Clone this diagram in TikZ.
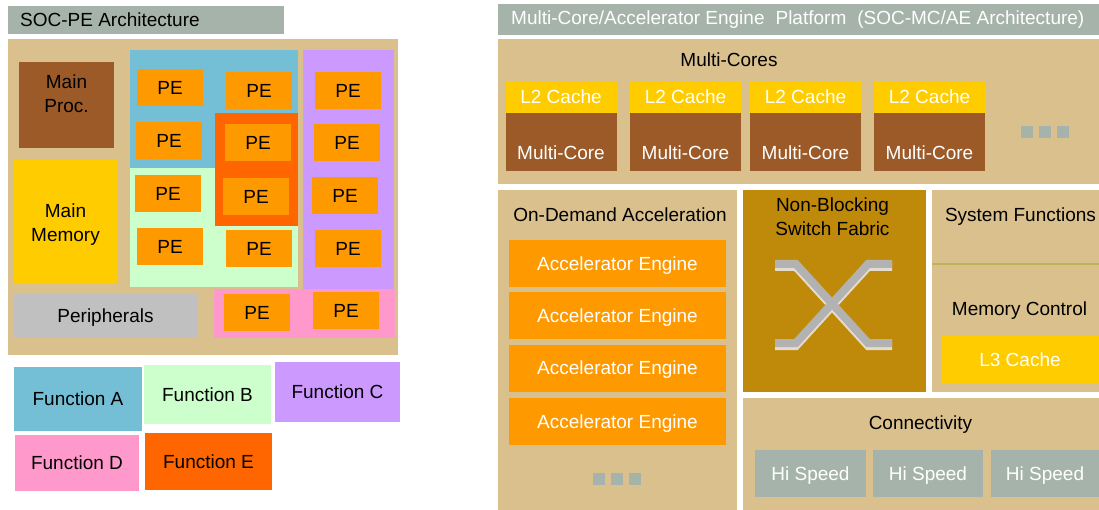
\documentclass[tikz,border=0pt]{standalone}
\usepackage{fontspec}
\setmainfont{Liberation Sans}
\usetikzlibrary{positioning}

\definecolor{barGray}{RGB}{166,179,170}
\definecolor{socTan}{RGB}{217,192,141}
\definecolor{procBrown}{RGB}{155,90,40}
\definecolor{cacheYellow}{RGB}{255,204,0}
\definecolor{peOrange}{RGB}{255,153,0}
\definecolor{fnRed}{RGB}{255,102,0}
\definecolor{fnBlue}{RGB}{116,190,214}
\definecolor{fnGreen}{RGB}{204,255,204}
\definecolor{fnPurple}{RGB}{204,153,255}
\definecolor{fnPink}{RGB}{255,153,204}
\definecolor{periGray}{RGB}{192,192,192}
\definecolor{switchGold}{RGB}{191,138,10}
\definecolor{xGray}{RGB}{178,178,178}
\definecolor{xEdge}{RGB}{228,220,205}
\definecolor{sepOlive}{RGB}{189,180,90}

\begin{document}
\begin{tikzpicture}[x=1pt, y=-1pt,
  blk/.style={rectangle, inner sep=0pt, outer sep=0pt, align=center, font=\fontsize{19}{24}\selectfont},
  lbl/.style={inner sep=0pt, align=center, font=\fontsize{19}{24}\selectfont},
  head/.style={lbl, text depth=0pt},
  pe/.style={blk, fill=peOrange, minimum width=66pt, minimum height=37pt},
  l2/.style={blk, fill=cacheYellow, text=white, minimum width=111pt, minimum height=32pt},
  core/.style={blk, fill=procBrown, minimum width=111pt, minimum height=58pt,
    label={[lbl, text=white, yshift=-11pt]center:Multi-Core}},
  engine/.style={blk, fill=peOrange, text=white, text depth=0pt, minimum width=217pt, minimum height=47pt},
  hispeed/.style={blk, fill=barGray, text=white, text depth=0pt, minimum height=47pt},
  dot/.style={blk, fill=barGray, minimum size=12pt},
  xbar/.style={line width=8pt, miter limit=4},
]
\useasboundingbox (0,0) rectangle (1099,510);

% === SOC-PE Architecture ===
\node[blk, fill=barGray, minimum width=276pt, minimum height=28pt,
  label={[lbl, anchor=west, xshift=12pt]west:SOC-PE Architecture}] (socTitle) at (146,20) {};
\node[blk, fill=socTan, minimum width=390pt, minimum height=316pt] (socBase) at (203,197) {};

\node[blk, fill=procBrown, minimum width=95pt, minimum height=86pt,
  label={[lbl, yshift=11pt]center:{Main\\Proc.}}] (mainProc) at (66.5,105) {};
\node[blk, fill=cacheYellow, minimum width=103pt, minimum height=124pt,
  label={[lbl, yshift=-3pt]center:{Main\\Memory}}] (mainMem) at (65.5,222) {};
\node[blk, fill=periGray, text depth=0pt, minimum width=183pt, minimum height=44pt] (periph) at (105.5,316) {Peripherals};

% function areas
\node[blk, fill=fnBlue, minimum width=168pt, minimum height=118pt] (areaA) at (214,109) {};
\node[blk, fill=fnGreen, minimum width=168pt, minimum height=119pt] (areaB) at (214,227.5) {};
\node[blk, fill=fnRed, minimum width=83pt, minimum height=113pt] (areaE) at (256.5,169.5) {};
\node[blk, fill=fnPurple, minimum width=91pt, minimum height=239pt] (areaC) at (348.5,169.5) {};
\node[blk, fill=fnPink, minimum width=181pt, minimum height=49pt] (areaD) at (304.5,313.5) {};

% processing elements
\node[pe] (pe11) at (170,87.5) {PE};
\node[pe] (pe12) at (259,90.5) {PE};
\node[pe] (pe13) at (348,90.5) {PE};
\node[pe] (pe21) at (169,140.5) {PE};
\node[pe] (pe22) at (258,143) {PE};
\node[pe] (pe23) at (347,142.5) {PE};
\node[pe] (pe31) at (168,193.5) {PE};
\node[pe] (pe32) at (256,196.5) {PE};
\node[pe] (pe33) at (345,195.5) {PE};
\node[pe] (pe41) at (170,246.5) {PE};
\node[pe] (pe42) at (259,249) {PE};
\node[pe] (pe43) at (348,248.5) {PE};
\node[pe] (pe51) at (257,312.5) {PE};
\node[pe] (pe52) at (346,310.5) {PE};

% legend
\node[blk, fill=fnBlue, minimum width=128pt, minimum height=64pt] (fnA) at (78,399) {Function A};
\node[blk, fill=fnGreen, minimum width=127pt, minimum height=59pt] (fnB) at (207.5,394.5) {Function B};
\node[blk, fill=fnPurple, minimum width=125pt, minimum height=60pt] (fnC) at (337.5,392) {Function C};
\node[blk, fill=fnPink, minimum width=124pt, minimum height=56pt] (fnD) at (77,463) {Function D};
\node[blk, fill=fnRed, minimum width=127pt, minimum height=57pt] (fnE) at (208.5,461.5) {Function E};

% === SOC-MC/AE Architecture ===
\node[blk, fill=barGray, minimum width=601pt, minimum height=31pt,
  label={[lbl, text=white, anchor=west, xshift=13pt]west:Multi-Core/Accelerator Engine\hspace{11pt}Platform\hspace{11pt}(SOC-MC/AE Architecture)}] (mcTitle) at (798.5,19.5) {};

% multi-cores
\node[blk, fill=socTan, minimum width=601pt, minimum height=145pt] (mcBase) at (798.5,111.5) {};
\node[head] (mcHead) at (729,60) {Multi-Cores};
\node[l2] (cache1) at (561,97) {L2 Cache};
\node[l2] (cache2) at (685.5,97) {L2 Cache};
\node[l2] (cache3) at (805.5,97) {L2 Cache};
\node[l2] (cache4) at (929.5,97) {L2 Cache};
\node[core] (core1) at (561,142) {};
\node[core] (core2) at (685.5,142) {};
\node[core] (core3) at (805.5,142) {};
\node[core] (core4) at (929.5,142) {};
\node[dot] (mcDot1) at (1027,132) {};
\node[dot] (mcDot2) at (1045,132) {};
\node[dot] (mcDot3) at (1063,132) {};

% on-demand acceleration
\node[blk, fill=socTan, minimum width=239pt, minimum height=320pt] (odaBase) at (617.5,350) {};
\node[head] (odaHead) at (620,215) {On-Demand Acceleration};
\node[engine] (eng1) at (617.5,263.5) {Accelerator Engine};
\node[engine] (eng2) at (617.5,315.5) {Accelerator Engine};
\node[engine] (eng3) at (617.5,368) {Accelerator Engine};
\node[engine] (eng4) at (617.5,421.5) {Accelerator Engine};
\node[dot] (odaDot1) at (599,479) {};
\node[dot] (odaDot2) at (617,479) {};
\node[dot] (odaDot3) at (635,479) {};

% switch fabric
\node[blk, fill=switchGold, minimum width=183pt, minimum height=202pt,
  label={[lbl, anchor=north, xshift=-2pt, yshift=-8pt]north:{Non-Blocking\\Switch Fabric}}] (switch) at (834.5,291) {};
\begin{scope}[shift={(0,3)}]
  \draw[xbar, xEdge] (775,264) -- (796,264) -- (868,343) -- (892,343);
  \draw[xbar, xEdge] (775,343) -- (796,343) -- (868,264) -- (892,264);
\end{scope}
\draw[xbar, xGray] (775,264) -- (796,264) -- (868,343) -- (892,343);
\draw[xbar, xGray] (775,343) -- (796,343) -- (868,264) -- (892,264);

% system functions
\node[blk, fill=socTan, minimum width=167pt, minimum height=202pt] (sysBase) at (1015.5,291) {};
\node[head] (sysHead) at (1020.5,215) {System Functions};
\coordinate (sepL) at (932,264);
\coordinate (sepR) at (1099,264);
\draw[sepOlive, line width=2pt] (sepL) -- (sepR);
\node[head] (memHead) at (1019.5,309) {Memory Control};
\node[blk, fill=cacheYellow, text=white, minimum width=158pt, minimum height=47pt] (l3) at (1020,359.5) {L3 Cache};

% connectivity
\node[blk, fill=socTan, minimum width=356pt, minimum height=112pt] (connBase) at (921,454) {};
\node[head] (connHead) at (920.5,423) {Connectivity};
\node[hispeed, minimum width=111pt] (hs1) at (810.5,473.5) {Hi Speed};
\node[hispeed, minimum width=110pt] (hs2) at (928,473.5) {Hi Speed};
\node[hispeed, minimum width=108pt] (hs3) at (1045,473.5) {Hi Speed};

\end{tikzpicture}
\end{document}
